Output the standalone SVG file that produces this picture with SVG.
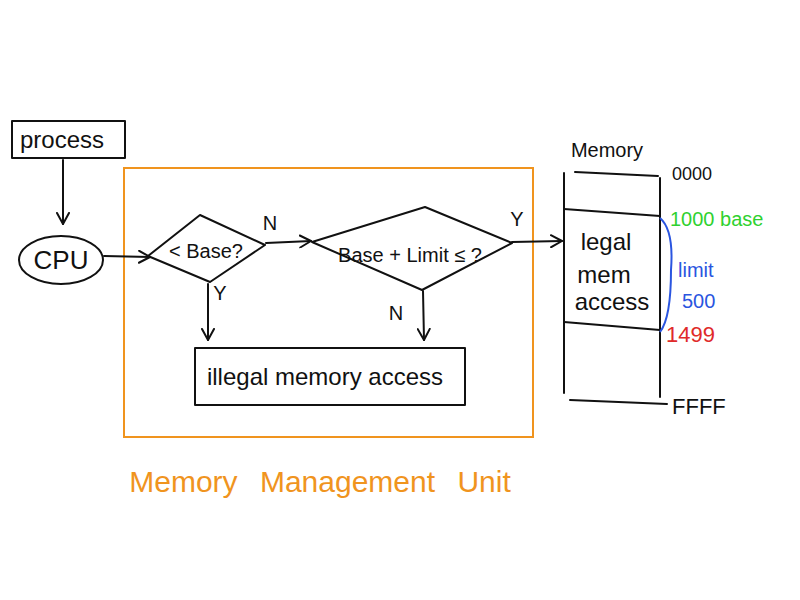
<svg xmlns="http://www.w3.org/2000/svg" width="800" height="600" viewBox="0 0 800 600">
<style>
.s{fill:none;stroke:#111;stroke-width:2;stroke-linecap:round;stroke-linejoin:round}
.t{font-family:"Liberation Sans",Arial,sans-serif;fill:#111}
.o{fill:none;stroke:#f0941e;stroke-width:2}
</style>
<defs>
<marker id="a" markerWidth="14" markerHeight="14" refX="12" refY="7" orient="auto" markerUnits="userSpaceOnUse">
<polyline points="1,1 12,7 1,13" fill="none" stroke="#111" stroke-width="2" stroke-linecap="round" stroke-linejoin="round"/>
</marker>
</defs>
<rect width="800" height="600" fill="#fff"/>
<g id="mmu">
<rect class="o" x="124" y="168" width="409" height="269"/>
<text class="t" x="320" y="492" font-size="30" text-anchor="middle" fill="#f0941e" style="fill:#f0941e;word-spacing:14px">Memory Management Unit</text>
</g>
<g id="process">
<rect class="s" x="12" y="121" width="113" height="37"/>
<text class="t" x="62" y="148" font-size="24" text-anchor="middle">process</text>
</g>
<g id="cpu">
<ellipse class="s" cx="61" cy="260" rx="42" ry="24"/>
<text class="t" x="61" y="269" font-size="26" text-anchor="middle">CPU</text>
</g>
<g id="base-check">
<polygon class="s" points="148,256 200,215 265,245 210,282"/>
<text class="t" x="206" y="258" font-size="20" text-anchor="middle">&lt; Base?</text>
</g>
<g id="limit-check">
<polygon class="s" points="312,242 425,207 512,243 422,290"/>
<text class="t" x="410" y="262" font-size="20" text-anchor="middle">Base + Limit ≤ ?</text>
</g>
<g id="illegal">
<rect class="s" x="195" y="348" width="270" height="57"/>
<text class="t" x="325" y="385" font-size="24" text-anchor="middle">illegal memory access</text>
</g>
<g id="memory">
<text class="t" x="607" y="157" font-size="20" text-anchor="middle">Memory</text>
<line class="s" x1="564" y1="173" x2="564" y2="393"/>
<line class="s" x1="660" y1="178" x2="660" y2="397"/>
<line class="s" x1="575" y1="172" x2="658" y2="176"/>
<line class="s" x1="564" y1="209" x2="660" y2="216"/>
<line class="s" x1="564" y1="322" x2="660" y2="330"/>
<line class="s" x1="570" y1="400" x2="667" y2="404"/>
<text class="t" x="606" y="250" font-size="24" text-anchor="middle">legal</text>
<text class="t" x="604" y="283" font-size="24" text-anchor="middle">mem</text>
<text class="t" x="612" y="310" font-size="24" text-anchor="middle">access</text>
<text class="t" x="672" y="180" font-size="18">0000</text>
<text class="t" x="670" y="226" font-size="20" style="fill:#2fd12f">1000 base</text>
<path d="M660,218 Q674,230 671,270 Q671,318 660,332" fill="none" stroke="#2a55e0" stroke-width="2"/>
<text class="t" x="678" y="277" font-size="20" style="fill:#2a55e0">limit</text>
<text class="t" x="682" y="308" font-size="20" style="fill:#2a55e0">500</text>
<text class="t" x="666" y="342" font-size="22" style="fill:#e02a2a">1499</text>
<text class="t" x="672" y="414" font-size="22">FFFF</text>
</g>
<g id="connectors">
<line class="s" x1="63" y1="160" x2="63" y2="224" marker-end="url(#a)"/>
<line class="s" x1="104" y1="256" x2="150" y2="257" marker-end="url(#a)"/>
<line class="s" x1="266" y1="243" x2="311" y2="241" marker-end="url(#a)"/>
<line class="s" x1="512" y1="242" x2="562" y2="241" marker-end="url(#a)"/>
<line class="s" x1="208" y1="284" x2="208" y2="340" marker-end="url(#a)"/>
<line class="s" x1="423" y1="291" x2="424" y2="340" marker-end="url(#a)"/>
<text class="t" x="270" y="230" font-size="20" text-anchor="middle">N</text>
<text class="t" x="517" y="226" font-size="20" text-anchor="middle">Y</text>
<text class="t" x="220" y="300" font-size="20" text-anchor="middle">Y</text>
<text class="t" x="396" y="320" font-size="20" text-anchor="middle">N</text>
</g>
</svg>
